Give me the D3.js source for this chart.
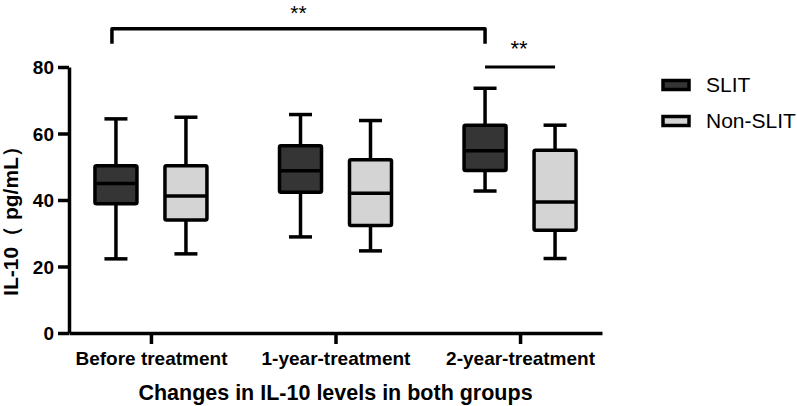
<!DOCTYPE html>
<html>
<head>
<meta charset="utf-8">
<script src="https://cdn.jsdelivr.net/npm/d3@7"></script>
<style>
  body { margin: 0; background: #fff; }
  svg { font-family: Arial, "Liberation Sans", Helvetica, sans-serif; }
  .axis path, .axis line { stroke: #000; stroke-width: 3.5px; }
  .axis text { font-size: 19px; font-weight: bold; fill: #000; }
</style>
</head>
<body>
<div id="chart"></div>
<script>
// box stats per category: [min, q1, median, q3, max]
const categories = ["Before treatment", "1-year-treatment", "2-year-treatment"];
const groups = ["SLIT", "Non-SLIT"];
const slitStats = [
  [22.3, 38.9, 45.0, 50.3, 64.4],
  [28.9, 42.3, 48.8, 56.3, 65.7],
  [42.7, 48.9, 54.8, 62.5, 73.6]
];
const nonSlitStats = [
  [23.8, 34.0, 41.2, 50.3, 64.9],
  [24.7, 32.3, 42.0, 52.1, 63.9],
  [22.4, 30.9, 39.4, 55.0, 62.5]
];
const yTicks = [0, 20, 40, 60, 80];
const groupColors = ["#353535", "#d4d4d4"];

const width = 797, height = 406;
const margin = {top: 67, right: 195, bottom: 73, left: 69};

const svg = d3.select("#chart").append("svg")
    .attr("width", width).attr("height", height);

const x0 = d3.scalePoint().domain(categories)
    .range([margin.left, width - margin.right]).padding(0.444);
const x1 = d3.scalePoint().domain(groups).range([-35, 35]);
const y = d3.scaleLinear().domain([0, 80]).range([height - margin.bottom, margin.top]);
const color = d3.scaleOrdinal().domain(groups).range(groupColors);

// axes
svg.append("g").attr("class", "axis")
    .attr("transform", `translate(${margin.left},0)`)
    .call(d3.axisLeft(y).tickValues(yTicks).tickSize(11).tickSizeOuter(0).tickPadding(4))
    .selectAll("text").attr("dy", "0.36em");

svg.append("g").attr("class", "axis")
    .attr("transform", `translate(0,${y(0)})`)
    .call(d3.axisBottom(x0).tickSize(11).tickSizeOuter(0).tickPadding(8));

// boxes
const boxW = 42, capW = 23;
const rows = [];
categories.forEach((c, i) => {
  rows.push({cat: c, grp: groups[0], s: slitStats[i]});
  rows.push({cat: c, grp: groups[1], s: nonSlitStats[i]});
});

const box = svg.selectAll(".box").data(rows).enter().append("g")
    .attr("class", "box")
    .attr("transform", d => `translate(${x0(d.cat) + x1(d.grp)},0)`)
    .style("stroke", "#000").style("stroke-width", 3.5);

box.append("line").attr("x1", 0).attr("x2", 0)
    .attr("y1", d => y(d.s[0])).attr("y2", d => y(d.s[4]));
box.append("line").attr("x1", -capW / 2).attr("x2", capW / 2)
    .attr("y1", d => y(d.s[0])).attr("y2", d => y(d.s[0]));
box.append("line").attr("x1", -capW / 2).attr("x2", capW / 2)
    .attr("y1", d => y(d.s[4])).attr("y2", d => y(d.s[4]));
box.append("rect")
    .attr("x", -boxW / 2).attr("width", boxW)
    .attr("y", d => y(d.s[3])).attr("height", d => y(d.s[1]) - y(d.s[3]))
    .attr("rx", 1.5)
    .style("fill", d => color(d.grp));
box.append("line").attr("x1", -boxW / 2).attr("x2", boxW / 2)
    .attr("y1", d => y(d.s[2])).attr("y2", d => y(d.s[2]));

// significance marks
const bigBracket = {a: [categories[0], groups[0]], b: [categories[2], groups[0]], top: 91.5, drop: 87};
const smallBar = {a: [categories[2], groups[0]], b: [categories[2], groups[1]], at: 80};
const bx = p => x0(p[0]) + x1(p[1]);

svg.append("path")
    .attr("d", `M${bx(bigBracket.a) - 4},${y(bigBracket.drop)}V${y(bigBracket.top)}H${bx(bigBracket.b)}V${y(bigBracket.drop)}`)
    .style("fill", "none").style("stroke", "#000").style("stroke-width", 3.5)
    .style("stroke-linejoin", "round");
svg.append("text")
    .attr("x", (bx(bigBracket.a) + bx(bigBracket.b)) / 2 - 2).attr("y", 19.5)
    .attr("text-anchor", "middle").style("font-size", "21px").text("**");

svg.append("line")
    .attr("x1", bx(smallBar.a)).attr("x2", bx(smallBar.b))
    .attr("y1", y(smallBar.at)).attr("y2", y(smallBar.at))
    .style("stroke", "#000").style("stroke-width", 3.2);
svg.append("text")
    .attr("x", (bx(smallBar.a) + bx(smallBar.b)) / 2 - 1).attr("y", 56)
    .attr("text-anchor", "middle").style("font-size", "22px").text("**");

// axis titles
svg.append("text")
    .attr("x", (margin.left + width - margin.right) / 2).attr("y", 400)
    .attr("text-anchor", "middle")
    .style("font-size", "21.5px").style("font-weight", "bold")
    .text("Changes in IL-10 levels in both groups");

svg.append("text")
    .attr("transform", "translate(18,216) rotate(-90)")
    .attr("text-anchor", "middle")
    .style("font-size", "21px").style("font-weight", "bold")
    .text("IL-10（ pg/mL）");

// legend
const legend = svg.selectAll(".legend").data(groups).enter().append("g")
    .attr("class", "legend")
    .attr("transform", (d, i) => `translate(663,${80.5 + i * 36})`);
legend.append("rect").attr("width", 26).attr("height", 9)
    .style("fill", d => color(d)).style("stroke", "#000").style("stroke-width", 3.5);
legend.append("text").attr("x", 43).attr("y", 11.5)
    .style("font-size", "21px").text(d => d);
</script>
</body>
</html>
